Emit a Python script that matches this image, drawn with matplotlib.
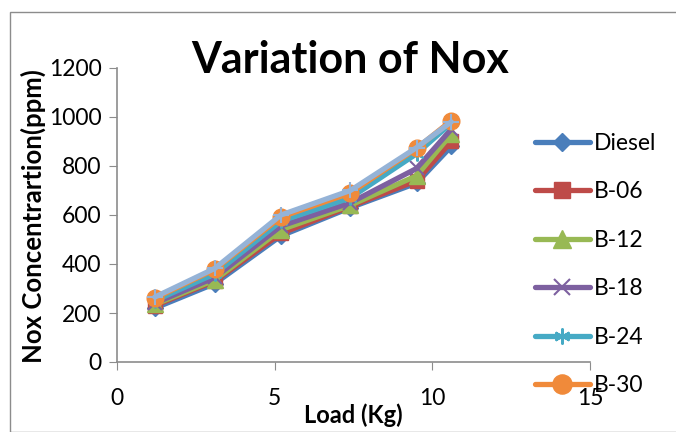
import matplotlib
matplotlib.use("Agg")
import matplotlib.pyplot as plt
from matplotlib.patches import Rectangle

plt.rcParams['font.family'] = ['Lato', 'DejaVu Sans']

load = [1.2, 3.1, 5.2, 7.4, 9.5, 10.6]
series_names = ["Diesel", "B-06", "B-12", "B-18", "B-24", "B-30", "B-36"]
diesel = [220, 320, 515, 630, 730, 880]
b06 = [230, 330, 525, 635, 740, 900]
b12 = [235, 335, 540, 640, 760, 930]
b18 = [240, 345, 555, 650, 790, 950]
b24 = [250, 360, 575, 670, 850, 975]
b30 = [260, 378, 592, 690, 872, 985]
b36 = [265, 382, 600, 700, 875, 980]
values = [diesel, b06, b12, b18, b24, b30, b36]

colors = ["#4A7EBB", "#BE4B48", "#98B954", "#7D60A0", "#46AAC5", "#F08A3A", "#95B3D7"]
markers = ["D", "s", "^", "x", (6, 2, 0), "o", "+"]
msizes = [8, 10, 11, 10, 10, 12, 12]

fig = plt.figure(figsize=(6.76, 4.32), dpi=100)
fig.patches.append(Rectangle((10/676, 0), 1, 1 - 12/432, transform=fig.transFigure,
                             fill=False, edgecolor="#8C8C8C", linewidth=1))
ax = fig.add_axes([117/676, 1 - 362/432, (590 - 117)/676, (362 - 68)/432])

handles = []
for name, vals, c, m, ms in zip(series_names, values, colors, markers, msizes):
    mew = 1.5 if m in ("x", "+") or isinstance(m, tuple) else 1
    h, = ax.plot(load, vals, color=c, linewidth=3.8, marker=m, markersize=ms,
                 markeredgecolor=c, markerfacecolor=c, markeredgewidth=mew,
                 solid_capstyle='round', solid_joinstyle='round')
    handles.append(h)

ax.set_xlim(0, 15)
ax.set_ylim(0, 1200)
ax.set_xticks([0, 5, 10, 15])
ax.set_yticks([0, 200, 400, 600, 800, 1000, 1200])
for s in ["top", "right"]:
    ax.spines[s].set_visible(False)
for s in ["left", "bottom"]:
    ax.spines[s].set_color("#8C8C8C")
    ax.spines[s].set_linewidth(1.2)
ax.tick_params(direction="out", length=6, color="#8C8C8C", labelsize=16.5, pad=5)
ax.tick_params(axis="x", pad=13)

fig.text(350/676, 1 - 60/432, "Variation of Nox", ha="center", va="center",
         fontsize=31, fontweight="bold")
ax.set_xlabel("Load (Kg)", fontsize=17, fontweight="bold", labelpad=-4)
fig.text(33/676, 1 - 216/432, "Nox Concentrartion(ppm)", rotation=90,
         ha="center", va="center", fontsize=18.5, fontweight="bold")

leg = fig.legend(handles[:6], series_names[:6], loc="upper left",
                 bbox_to_anchor=(530/676, 1 - 128/432), frameon=False,
                 fontsize=16.5, handlelength=2.4, handletextpad=0.2,
                 labelspacing=1.2, borderaxespad=0, borderpad=0.2,
                 markerscale=1.15)

fig.savefig("out.png", dpi=100)
